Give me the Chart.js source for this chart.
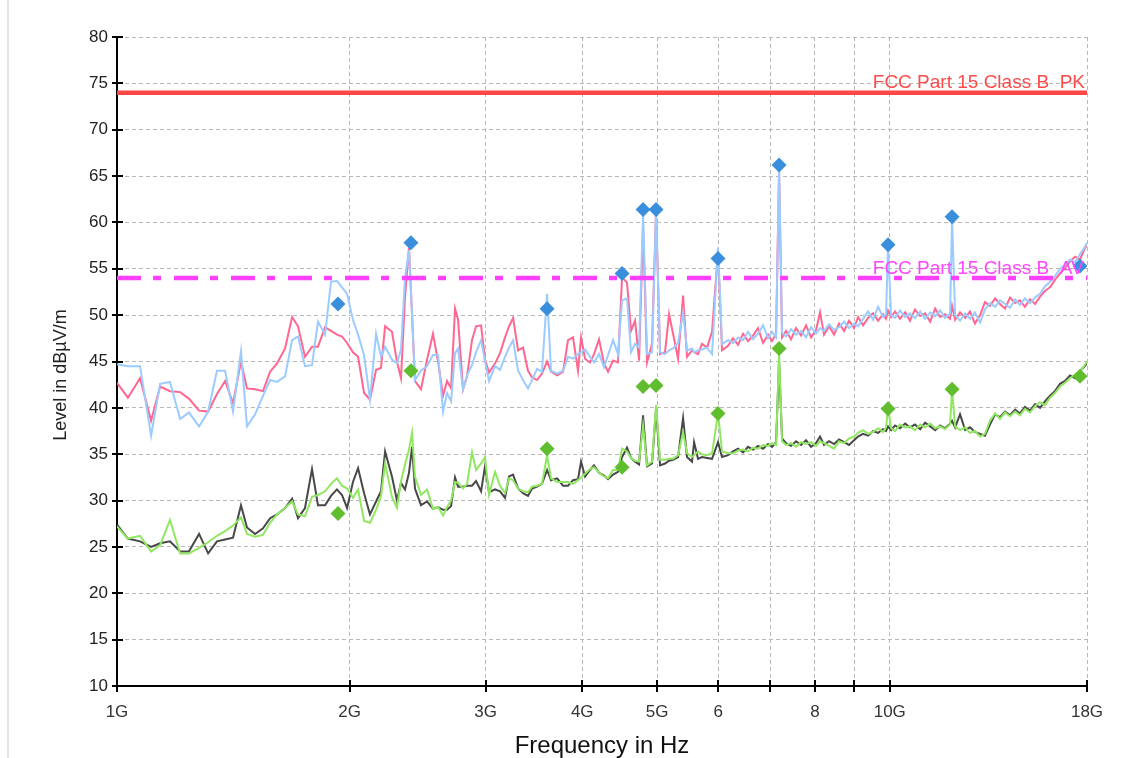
<!DOCTYPE html>
<html lang="en">
<head>
<meta charset="UTF-8">
<title>Radiated Emissions 1 GHz - 18 GHz, FCC Part 15 Class B</title>
<script src="https://cdn.jsdelivr.net/npm/chart.js"></script>
<style>
    html, body { margin: 0; padding: 0; background: #fff; }
    .frame { position: relative; width: 1128px; height: 758px; overflow: hidden; }
    .frame::before { content: ''; position: absolute; left: 7px; top: 0; bottom: 0; border-left: 2px solid #e4e4e4; }
    canvas { display: block; }
</style>
</head>
<body>
<div class="frame"><canvas id="emiChart" width="1128" height="758"></canvas></div>

<script>
// Scan frequencies (GHz) shared by all four traces
const freqGHz = [
    1.000,1.033,1.071,1.107,1.137,1.171,1.207,1.239,1.277,1.312,
    1.347,1.380,1.413,1.447,1.473,1.509,1.545,1.578,1.611,1.650,
    1.685,1.715,1.751,1.788,1.820,1.859,1.892,1.926,1.955,1.985,
    2.020,2.051,2.088,2.125,2.164,2.196,2.223,2.269,2.303,2.331,
    2.359,2.387,2.409,2.430,
    2.474,2.519,2.564,2.603,2.642,2.674,2.706,2.738,2.763,2.804,
    2.838,2.880,2.915,2.959,2.994,3.030,3.085,3.131,3.178,3.216,
    3.255,3.304,3.353,3.403,3.444,3.496,3.548,3.602,3.645,3.711,
    3.778,3.834,3.892,3.950,3.986,4.034,4.094,4.143,4.205,4.268,
    4.320,4.385,4.450,4.504,4.571,4.626,4.682,4.738,4.795,4.852,
    4.925,4.984,5.044,5.119,5.181,5.243,5.322,5.402,5.466,5.548,
    5.582,5.648,5.716,5.802,5.889,5.995,6.067,6.177,
    6.269,6.364,6.459,6.556,6.654,6.754,6.856,6.959,7.042,7.127,
    7.191,7.255,7.342,7.452,7.564,7.678,7.793,7.910,8.029,8.125,
    8.222,8.346,8.471,8.598,8.727,8.858,8.991,9.099,9.236,9.374,
    9.515,9.658,9.803,9.891,9.950,10.04,10.16,10.31,10.47,10.62,
    10.78,10.95,11.11,11.28,11.45,11.62,11.79,11.97,12.04,12.15,
    12.33,12.52,12.70,12.89,13.09,13.28,13.48,13.69,13.89,14.10,
    14.31,14.53,14.74,14.96,15.19,15.42,15.65,15.88,16.12,16.36,
    16.61,16.86,17.11,17.37,17.63,17.84,18.00
];

// Peak, horizontal (pink)
const peakH = [
    42.7,41.1,43.2,38.6,42.3,41.8,41.7,41.0,39.7,39.6,
    41.5,42.9,40.5,45.0,42.1,42.0,41.8,43.9,44.8,46.4,
    49.8,48.8,45.5,46.6,46.6,48.7,48.3,47.9,47.7,47.0,
    46.0,45.5,41.6,40.9,44.1,44.3,48.8,48.2,45.0,43.2,
    52.0,57.3,50.0,42.9,
    42.0,45.2,48.0,45.0,41.3,42.9,42.1,50.7,49.5,42.0,
    43.4,47.3,48.8,48.9,45.2,43.8,44.8,45.9,47.6,48.8,
    49.7,46.2,46.5,44.0,43.3,43.0,43.7,45.0,43.9,43.5,
    43.9,47.3,47.6,44.0,47.6,45.3,44.9,45.8,47.4,44.8,
    43.9,45.1,44.9,54.1,53.5,48.3,49.4,45.1,59.5,44.9,
    46.9,61.2,45.8,46.0,50.1,48.0,45.3,52.1,45.5,46.2,
    46.0,45.8,46.9,46.5,48.2,56.9,46.2,46.7,
    47.5,46.8,48.0,47.2,47.8,48.6,47.0,47.9,47.2,48.0,
    65.5,47.6,48.3,47.4,48.6,47.8,48.9,47.6,48.4,50.3,
    47.9,48.8,47.9,49.1,48.3,49.4,48.6,49.8,48.9,49.7,
    50.2,49.4,50.1,49.6,50.5,49.8,50.4,49.6,50.3,49.4,
    50.6,49.9,50.2,49.3,50.7,49.8,50.1,49.6,51.0,49.5,
    50.3,49.7,50.4,49.1,50.0,51.4,51.0,51.8,51.2,50.7,
    51.9,51.3,51.6,50.9,51.7,51.2,52.0,52.6,53.0,53.8,
    54.5,55.1,55.8,56.3,56.0,57.0,57.6
];

// Peak, vertical (light blue)
const peakV = [
    44.7,44.5,44.5,37.0,42.6,42.8,38.8,39.5,38.0,39.6,
    44.0,44.0,39.6,46.1,38.0,39.3,41.3,43.0,42.8,43.4,
    47.3,47.7,44.5,44.6,49.3,47.9,53.6,53.7,53.0,52.3,
    49.5,47.9,45.7,40.9,48.0,45.5,46.6,45.2,44.8,46.3,
    54.0,57.0,50.0,43.0,
    44.0,44.5,45.7,45.7,39.6,41.6,40.7,45.9,46.4,42.0,
    43.5,44.6,46.0,47.3,45.0,42.9,44.5,44.1,45.5,46.5,
    47.3,44.0,43.0,42.1,43.0,44.2,43.9,52.3,44.0,43.7,
    44.0,45.5,45.3,45.8,46.0,46.3,45.5,44.9,45.8,44.4,
    45.7,47.3,45.8,51.6,51.8,46.0,46.9,46.5,61.1,45.8,
    46.0,61.2,46.0,45.8,46.2,46.4,47.0,50.3,46.2,46.4,
    46.0,46.2,46.3,46.5,45.8,57.3,46.9,47.3,
    47.0,47.6,47.3,48.2,47.4,48.0,48.9,47.5,48.2,47.6,
    66.0,48.1,47.7,48.5,47.9,48.3,47.6,48.7,48.0,48.6,
    48.3,49.0,48.4,48.7,49.3,48.6,49.1,48.8,49.6,50.4,
    49.5,50.9,49.8,50.1,57.5,50.0,49.7,50.5,49.8,50.2,
    49.7,50.4,49.6,50.3,49.9,50.5,49.7,50.2,60.5,50.0,
    49.4,50.2,49.6,50.3,49.2,50.6,51.3,50.9,51.6,51.2,
    50.8,51.7,51.1,51.8,51.3,51.9,52.3,53.1,53.6,54.2,
    55.0,55.4,56.0,55.7,56.6,57.2,57.8
];

// Average, horizontal (dark grey)
const avgH = [
    27.4,25.9,25.6,25.0,25.4,25.6,24.5,24.5,26.4,24.3,
    25.6,25.8,26.0,29.5,27.1,26.4,27.0,28.1,28.5,29.2,
    30.2,28.1,29.2,33.4,29.5,29.5,30.5,31.2,30.6,29.2,
    32.0,33.5,30.8,28.5,29.9,31.0,35.3,32.6,30.0,31.9,
    31.2,33.0,35.8,31.3,
    29.5,29.9,29.1,29.3,29.0,29.0,29.4,32.5,31.5,31.5,
    31.6,31.6,32.1,31.0,33.7,30.9,31.2,31.0,30.3,32.6,
    32.8,31.3,30.8,30.5,31.3,31.5,31.8,33.3,32.2,32.4,
    31.6,31.6,32.2,32.3,34.2,32.6,33.3,33.8,33.0,32.7,
    32.3,32.8,33.1,34.7,35.7,34.6,34.2,33.9,39.2,33.7,
    34.0,39.9,33.8,34.0,34.3,34.4,34.7,38.9,34.7,34.2,
    36.3,34.5,34.7,34.6,34.5,36.3,34.7,34.9,
    35.3,35.6,35.2,35.8,35.5,35.9,35.6,36.1,35.8,36.3,
    45.0,36.7,36.2,35.9,36.4,36.0,36.5,35.8,36.2,36.9,
    36.0,36.4,36.1,36.6,36.3,36.0,36.5,36.9,37.2,37.0,
    37.5,37.3,37.7,37.5,38.0,37.6,38.1,37.8,38.3,37.9,
    38.2,37.7,38.4,38.0,37.6,38.1,37.8,38.3,38.6,37.9,
    39.3,37.6,37.9,37.4,37.2,37.0,38.2,39.3,39.0,39.6,
    39.2,39.8,39.4,40.1,39.7,40.4,40.0,40.7,41.3,41.8,
    42.6,42.9,43.5,43.2,44.0,44.4,44.8
];

// Average, vertical (light green)
const avgV = [
    27.2,25.9,26.2,24.5,25.2,27.9,24.3,24.3,24.9,25.5,
    26.2,26.7,27.3,28.2,26.4,26.1,26.3,27.6,28.5,29.2,
    29.9,28.5,28.3,30.4,30.6,31.0,31.8,32.4,31.6,31.3,
    30.3,31.2,27.8,27.6,29.0,30.5,34.0,30.4,29.2,32.1,
    33.9,35.5,37.3,32.6,
    30.6,31.2,29.1,29.3,28.4,29.3,30.0,32.0,31.9,31.3,
    31.8,35.2,33.3,34.0,34.7,30.6,33.1,31.6,30.8,32.4,
    32.2,31.3,31.0,30.9,31.5,31.6,31.8,34.9,32.4,32.0,
    32.0,32.0,31.8,32.2,32.5,32.9,33.4,33.6,33.0,32.6,
    32.4,33.3,33.3,35.6,35.3,34.6,34.3,34.2,38.1,33.8,
    34.2,40.3,34.4,34.4,34.5,34.5,34.9,37.4,35.1,34.7,
    34.9,35.3,35.0,34.9,35.1,39.4,35.3,35.1,
    35.1,35.4,35.5,35.3,35.7,35.6,36.0,35.9,36.2,36.0,
    46.0,36.4,36.0,36.2,35.8,36.3,36.1,36.3,35.9,36.4,
    36.2,35.9,35.6,36.4,36.2,36.7,36.9,37.3,37.6,37.2,
    37.4,37.8,37.4,37.9,40.0,37.8,37.5,38.2,37.9,38.0,
    37.6,38.2,37.9,38.3,37.8,38.0,37.7,38.2,42.0,38.0,
    37.6,37.9,37.3,37.5,36.9,37.2,38.6,39.4,38.8,39.5,
    39.1,39.6,39.2,39.9,39.5,40.2,40.6,40.3,41.1,41.6,
    42.3,42.7,43.2,43.6,43.9,44.5,45.0
];

// Final measurement markers
const markerFreq = [1.932, 2.401, 3.602, 4.504, 4.795, 4.984, 5.995, 7.191, 9.950, 12.04, 17.63];
const markerPk   = [51.2, 57.8, 50.7, 54.5, 61.4, 61.4, 56.1, 66.2, 57.6, 60.6, 55.3];
const markerAv   = [28.6, 44.0, 35.6, 33.6, 42.3, 42.4, 39.4, 46.4, 39.9, 42.0, 43.4];

// Limit lines
const limitFreq = [1, 18];
const limitPk = [74, 74];
const limitAv = [54, 54];
const limitPkName = 'FCC Part 15 Class B  PK';
const limitAvName = 'FCC Part 15 Class B  AV';

// Axis ticks
const xTickValues = [1, 2, 3, 4, 5, 6, 7, 8, 9, 10, 18];
const xTickLabels = ['1G', '2G', '3G', '4G', '5G', '6', '', '8', '', '10G', '18G'];

const FONT = '"Liberation Sans", Arial, Helvetica, sans-serif';
Chart.defaults.font.family = FONT;

const pts = (xs, ys) => xs.map((x, i) => ({ x: x, y: ys[i] }));

// axis tick crosses, axis titles and limit labels
const extras = {
    id: 'extras',
    afterDatasetsDraw(chart) {
        const { ctx, chartArea: a, scales: { y } } = chart;
        ctx.save();
        ctx.beginPath();
        ctx.rect(a.left, a.top, a.right - a.left, a.bottom - a.top);
        ctx.clip();
        ctx.font = '19px ' + FONT;
        ctx.textAlign = 'left';
        ctx.textBaseline = 'alphabetic';
        const x0 = a.right - 2 - ctx.measureText(limitPkName).width;
        ctx.fillStyle = '#ff4a4a';
        ctx.fillText(limitPkName, x0, y.getPixelForValue(limitPk[0]) - 4.5);
        ctx.fillStyle = '#ff44ff';
        ctx.fillText(limitAvName, x0, y.getPixelForValue(limitAv[0]) - 4.5);
        ctx.restore();
    },
    afterDraw(chart) {
        const { ctx, chartArea: a, scales: { x, y } } = chart;
        ctx.save();
        ctx.strokeStyle = '#000';
        ctx.lineWidth = 2;
        ctx.beginPath();
        y.ticks.forEach(t => {
            const py = Math.round(y.getPixelForValue(t.value));
            ctx.moveTo(a.left - 5, py);
            ctx.lineTo(a.left + 6, py);
        });
        x.ticks.forEach(t => {
            const px = Math.round(x.getPixelForValue(t.value));
            ctx.moveTo(px, a.bottom - 6);
            ctx.lineTo(px, a.bottom + 6);
        });
        ctx.stroke();

        ctx.fillStyle = '#222';
        ctx.textAlign = 'center';
        ctx.textBaseline = 'middle';
        ctx.font = '18px ' + FONT;
        ctx.translate(61, 375);
        ctx.rotate(-Math.PI / 2);
        ctx.fillText('Level in dBµV/m', 0, 0);
        ctx.setTransform(1, 0, 0, 1, 0, 0);

        ctx.fillStyle = '#111';
        ctx.textBaseline = 'alphabetic';
        ctx.font = '24px ' + FONT;
        ctx.fillText('Frequency in Hz', (a.left + a.right) / 2, 753);
        ctx.restore();
    }
};

new Chart(document.getElementById('emiChart'), {
    type: 'line',
    data: {
        datasets: [
            { label: 'PK final', data: pts(markerFreq, markerPk), showLine: false, pointStyle: 'rectRot',
              pointRadius: 7.5, pointBorderWidth: 0, pointBackgroundColor: '#3a8fdc', order: 0 },
            { label: 'AV final', data: pts(markerFreq, markerAv), showLine: false, pointStyle: 'rectRot',
              pointRadius: 7.5, pointBorderWidth: 0, pointBackgroundColor: '#5fbd2e', order: 0 },
            { label: limitPkName, data: pts(limitFreq, limitPk), borderColor: '#ff4646', borderWidth: 4.5,
              pointRadius: 0, order: 1 },
            { label: limitAvName, data: pts(limitFreq, limitAv), borderColor: '#ff40ff', borderWidth: 4.5,
              borderDash: [24, 12, 8, 13], pointRadius: 0, order: 1 },
            { label: 'Peak V', data: pts(freqGHz, peakV), borderColor: '#9ccbff', borderWidth: 2,
              pointRadius: 0, order: 2 },
            { label: 'Peak H', data: pts(freqGHz, peakH), borderColor: '#ff6690', borderWidth: 2,
              pointRadius: 0, order: 3 },
            { label: 'Average V', data: pts(freqGHz, avgV), borderColor: '#8fe860', borderWidth: 2,
              pointRadius: 0, order: 4 },
            { label: 'Average H', data: pts(freqGHz, avgH), borderColor: '#484848', borderWidth: 2,
              pointRadius: 0, order: 5 }
        ]
    },
    options: {
        responsive: false,
        animation: false,
        events: [],
        layout: { padding: { left: 0, right: 41, top: 37, bottom: 0 } },
        elements: { line: { tension: 0 } },
        plugins: { legend: { display: false }, tooltip: { enabled: false } },
        scales: {
            x: {
                type: 'logarithmic',
                min: 1,
                max: 18,
                afterBuildTicks: s => { s.ticks = xTickValues.map(v => ({ value: v })); },
                afterFit: s => { s.height = 72; },
                ticks: {
                    autoSkip: false, maxRotation: 0, padding: 16, color: '#333',
                    font: { size: 17 },
                    callback: (v, i) => xTickLabels[i]
                },
                grid: { color: '#b8b8b8', lineWidth: 1, drawTicks: false },
                border: { display: true, color: '#000', width: 2, dash: [4, 3] }
            },
            y: {
                min: 10,
                max: 80,
                afterFit: s => { s.width = 117; },
                ticks: {
                    stepSize: 2.5, padding: 9, color: '#222',
                    font: { size: 17 },
                    callback: v => (v % 5 === 0 ? v : '')
                },
                grid: { color: '#b8b8b8', lineWidth: 1, drawTicks: false },
                border: { display: true, color: '#000', width: 2, dash: [4, 3] }
            }
        }
    },
    plugins: [extras]
});
</script>
</body>
</html>
